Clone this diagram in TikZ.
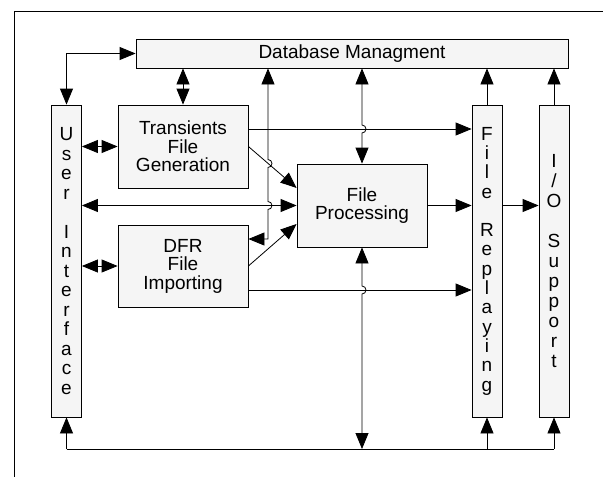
\documentclass[tikz,border=0pt]{standalone}
\usepackage{fontspec}
\setmainfont{Liberation Sans}
\usetikzlibrary{arrows.meta,calc}
\begin{document}
\begin{tikzpicture}[x=1pt,y=-1pt,
  >={Triangle[length=16pt,width=13pt]},
  box/.style={draw, line width=0.8pt, fill=black!4, inner sep=0pt, align=center,
    font=\fontsize{19}{18.5}\selectfont},
  vbox/.style={box, minimum width=30pt, minimum height=312pt},
  link/.style={line width=0.8pt},
]
\useasboundingbox (0,0) rectangle (603,477);
% frame
\draw[line width=0.8pt] (14,477) -- (14,11) -- (603,11);

% boxes
\node[box, minimum width=432pt, minimum height=29pt] (db) at (352,53.5) {Database Managment};
\node[vbox, font=\fontsize{19}{19.5}\selectfont] (ui) at (66.5,261) {U\\s\\e\\r\\~\\I\\n\\t\\e\\r\\f\\a\\c\\e};
\node[box, minimum width=130pt, minimum height=83pt] (tr) at (183,146.5) {Transients\\File\\Generation};
\node[box, minimum width=130pt, minimum height=82pt] (dfr) at (183,266) {DFR\\File\\Importing};
\node[box, minimum width=130pt, minimum height=83pt] (fp) at (362,205.5) {File\\Processing};
\node[vbox, font=\fontsize{19}{19.3}\selectfont] (fr) at (487,261) {F\\i\\l\\e\\~\\R\\e\\p\\l\\a\\y\\i\\n\\g};
\node[vbox, font=\fontsize{19}{20}\selectfont] (io) at (554,261) {I\\/\\O\\~\\S\\u\\p\\p\\o\\r\\t};

% coordinates
\coordinate (k) at (268,239);
\coordinate (bus) at (0,449);

% UI <-> DB elbow
\draw[link,<->] (ui.north) |- (db.west);
% Transients <-> DB
\draw[link,<->] (tr.north) -- (tr.north |- db.south);
% File Replaying / IO -> DB
\draw[link,->] (fr.north) -- (fr.north |- db.south);
\draw[link,->] (io.north) -- (io.north |- db.south);

% UI <-> Transients, UI <-> DFR
\draw[link,<->] (tr.west -| ui.east) -- (tr.west);
\draw[link,<->] (dfr.west -| ui.east) -- (dfr.west);

% Transients -> File Replaying
\draw[link,->] ([yshift=17.5pt]tr.east) -- ([yshift=17.5pt]tr.east -| fr.west);
% Transients -> FP diagonal
\draw[link,->] (tr.east) -- ([yshift=17.5pt]fp.west);
% UI <-> FP
\draw[link,<->] (fp.west -| ui.east) -- (fp.west);
% DFR -> FP diagonal
\draw[link,->] (dfr.east) -- ([yshift=-18.5pt]fp.west);
% DFR -> File Replaying
\draw[link,->] ([yshift=-24pt]dfr.east) -- ([yshift=-24pt]dfr.east -| fr.west);
% FP -> FR -> IO
\draw[link,->] (fp.east) -- (fp.east -| fr.west);
\draw[link,->] (fp.east -| fr.east) -- (fp.east -| io.west);

% DB <-> DFR elbow with hops
\draw[link,<->] (k -| dfr.east) -- (k) -- (268,209.5)
  arc[start angle=-90,end angle=90,radius=4pt] -- (268,167.5)
  arc[start angle=-90,end angle=90,radius=4pt] -- (k |- db.south);

% DB <-> FP with hop
\draw[link,<->] (fp.north |- db.south) -- (362,125)
  arc[start angle=90,end angle=-90,radius=4pt] -- (fp.north);

% FP <-> bus with hop
\draw[link,<->] (fp.south) -- (362,286)
  arc[start angle=90,end angle=-90,radius=4pt] -- (fp.south |- bus);

% bus
\draw[link] (ui.south |- bus) -- (io.south |- bus);
\draw[link,->] (ui.south |- bus) -- (ui.south);
\draw[link,->] (fr.south |- bus) -- (fr.south);
\draw[link,->] (io.south |- bus) -- (io.south);
\end{tikzpicture}
\end{document}
